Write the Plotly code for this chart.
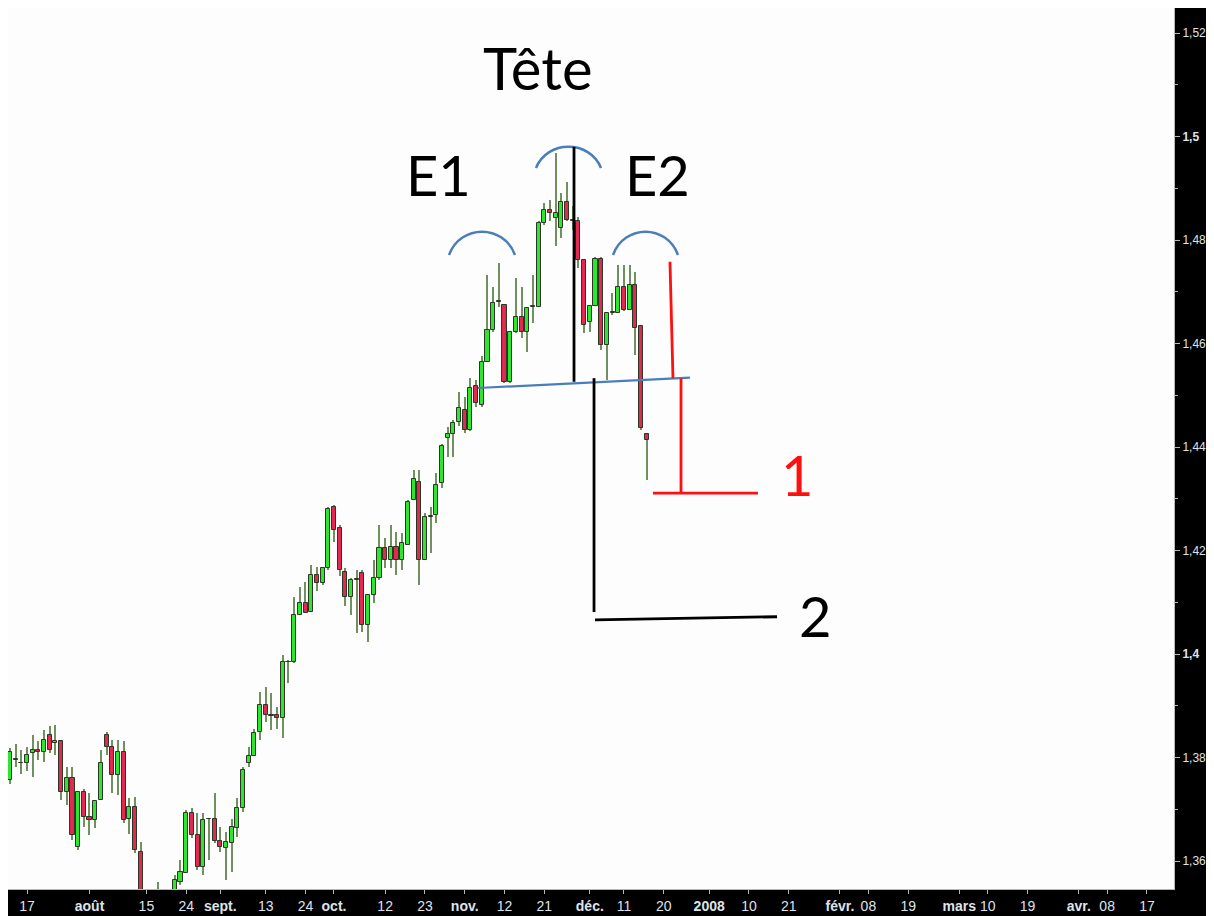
import pandas as pd
import plotly.graph_objects as go

# ---------------- data (EUR/USD daily candles, from 2007-07-12) ----------------
start_date = "2007-07-12"
open_ = [1.3756, 1.3795, 1.3790, 1.3789, 1.3808, 1.3814, 1.3811, 1.3844, 1.3828, 1.3831,
         1.3734, 1.3760, 1.3628, 1.3734, 1.3686, 1.3679, 1.3718, 1.3843, 1.3821, 1.3766,
         1.3811, 1.3682, 1.3705, 1.3618, 1.3500, 1.3420, 1.3440, 1.3460, 1.3480, 1.3530,
         1.3560, 1.3576, 1.3692, 1.3650, 1.3589, 1.3681, 1.3681, 1.3639, 1.3625, 1.3634,
         1.3663, 1.3702, 1.3789, 1.3802, 1.3850, 1.3902, 1.3882, 1.3882, 1.3876, 1.3985,
         1.3984, 1.4075, 1.4098, 1.4082, 1.4153, 1.4137, 1.4166, 1.4285, 1.4243, 1.4159,
         1.4111, 1.4143, 1.4157, 1.4056, 1.4114, 1.4146, 1.4204, 1.4182, 1.4207, 1.4182,
         1.4211, 1.4298, 1.4333, 1.4182, 1.4265, 1.4269, 1.4330, 1.4417, 1.4426, 1.4449,
         1.4472, 1.4433, 1.4517, 1.4481, 1.4565, 1.4626, 1.4681, 1.4674, 1.4526, 1.4623,
         1.4652, 1.4623, 1.4671, 1.4671, 1.4832, 1.4858, 1.4843, 1.4823, 1.4874, 1.4838,
         1.4836, 1.4761, 1.4642, 1.4672, 1.4764, 1.4597, 1.4658, 1.4658, 1.4710, 1.4665,
         1.4713, 1.4633, 1.4426]
high = [1.3818, 1.3827, 1.3815, 1.3821, 1.3843, 1.3831, 1.3853, 1.3860, 1.3863, 1.3833,
        1.3782, 1.3782, 1.3734, 1.3740, 1.3731, 1.3718, 1.3815, 1.3850, 1.3834, 1.3834,
        1.3831, 1.3721, 1.3724, 1.3637, 1.3525, 1.3460, 1.3560, 1.3510, 1.3530, 1.3573,
        1.3602, 1.3699, 1.3702, 1.3692, 1.3692, 1.3683, 1.3731, 1.3666, 1.3657, 1.3682,
        1.3721, 1.3782, 1.3821, 1.3856, 1.3927, 1.3937, 1.3924, 1.3898, 1.3998, 1.3988,
        1.4111, 1.4130, 1.4140, 1.4172, 1.4169, 1.4169, 1.4285, 1.4288, 1.4250, 1.4166,
        1.4146, 1.4162, 1.4162, 1.4114, 1.4182, 1.4249, 1.4224, 1.4249, 1.4236, 1.4233,
        1.4298, 1.4356, 1.4356, 1.4272, 1.4285, 1.4349, 1.4405, 1.4439, 1.4452, 1.4507,
        1.4497, 1.4533, 1.4530, 1.4575, 1.4732, 1.4710, 1.4755, 1.4674, 1.4623, 1.4726,
        1.4710, 1.4668, 1.4732, 1.4836, 1.4871, 1.4877, 1.4968, 1.4890, 1.4912, 1.4865,
        1.4845, 1.4761, 1.4674, 1.4768, 1.4768, 1.4658, 1.4697, 1.4752, 1.4752, 1.4752,
        1.4739, 1.4633, 1.4426]
low = [1.3748, 1.3782, 1.3769, 1.3773, 1.3763, 1.3795, 1.3792, 1.3808, 1.3805, 1.3718,
       1.3708, 1.3641, 1.3621, 1.3666, 1.3650, 1.3663, 1.3718, 1.3805, 1.3731, 1.3727,
       1.3673, 1.3653, 1.3615, 1.3480, 1.3400, 1.3265, 1.3370, 1.3430, 1.3430, 1.3500,
       1.3554, 1.3576, 1.3644, 1.3583, 1.3573, 1.3602, 1.3634, 1.3618, 1.3563, 1.3579,
       1.3647, 1.3695, 1.3782, 1.3802, 1.3834, 1.3869, 1.3853, 1.3856, 1.3837, 1.3944,
       1.3982, 1.4075, 1.4079, 1.4082, 1.4121, 1.4134, 1.4163, 1.4217, 1.4150, 1.4092,
       1.4075, 1.4040, 1.4043, 1.4024, 1.4098, 1.4143, 1.4166, 1.4166, 1.4153, 1.4162,
       1.4211, 1.4298, 1.4133, 1.4182, 1.4195, 1.4253, 1.4320, 1.4381, 1.4381, 1.4440,
       1.4427, 1.4430, 1.4478, 1.4478, 1.4565, 1.4623, 1.4670, 1.4523, 1.4523, 1.4620,
       1.4610, 1.4584, 1.4639, 1.4671, 1.4829, 1.4836, 1.4788, 1.4803, 1.4836, 1.4820,
       1.4745, 1.4620, 1.4623, 1.4672, 1.4588, 1.4530, 1.4655, 1.4658, 1.4662, 1.4665,
       1.4578, 1.4433, 1.4336]
close = [1.3811, 1.3797, 1.3789, 1.3805, 1.3814, 1.3811, 1.3834, 1.3815, 1.3831, 1.3734,
         1.3760, 1.3650, 1.3734, 1.3686, 1.3679, 1.3715, 1.3789, 1.3821, 1.3766, 1.3811,
         1.3679, 1.3705, 1.3621, 1.3500, 1.3420, 1.3440, 1.3460, 1.3480, 1.3500, 1.3563,
         1.3578, 1.3692, 1.3650, 1.3589, 1.3679, 1.3682, 1.3638, 1.3628, 1.3636, 1.3666,
         1.3702, 1.3776, 1.3802, 1.3847, 1.3902, 1.3882, 1.3880, 1.3876, 1.3985, 1.3984,
         1.4075, 1.4098, 1.4079, 1.4153, 1.4137, 1.4166, 1.4281, 1.4240, 1.4162, 1.4111,
         1.4143, 1.4145, 1.4056, 1.4114, 1.4146, 1.4204, 1.4182, 1.4207, 1.4182, 1.4214,
         1.4294, 1.4339, 1.4182, 1.4265, 1.4267, 1.4327, 1.4401, 1.4426, 1.4446, 1.4475,
         1.4433, 1.4514, 1.4485, 1.4565, 1.4626, 1.4678, 1.4683, 1.4526, 1.4623, 1.4652,
         1.4623, 1.4668, 1.4672, 1.4832, 1.4858, 1.4852, 1.4853, 1.4874, 1.4838, 1.4836,
         1.4761, 1.4636, 1.4672, 1.4764, 1.4597, 1.4658, 1.4660, 1.4710, 1.4665, 1.4713,
         1.4629, 1.4436, 1.4413]

tick_dates = ["2007-07-17", "2007-08-01", "2007-08-15", "2007-08-24", "2007-09-03",
              "2007-09-13", "2007-09-24", "2007-10-01", "2007-10-12", "2007-10-23",
              "2007-11-01", "2007-11-12", "2007-11-21", "2007-12-03", "2007-12-11",
              "2007-12-20", "2008-01-01", "2008-01-10", "2008-01-21", "2008-02-01",
              "2008-02-08", "2008-02-19", "2008-03-03", "2008-03-10", "2008-03-19",
              "2008-04-01", "2008-04-08", "2008-04-17"]
tick_labels = ["17", "<b>août</b>", "15", "24", "<b>sept.</b>", "13", "24", "<b>oct.</b>",
               "12", "23", "<b>nov.</b>", "12", "21", "<b>déc.</b>", "11", "20",
               "<b>2008</b>", "10", "21", "<b>févr.</b>", "08", "19", "<b>mars</b>",
               "10", "19", "<b>avr.</b>", "08", "17"]
price_ticks = [1.36, 1.38, 1.40, 1.42, 1.44, 1.46, 1.48, 1.50, 1.52]
price_labels = ["1,36", "1,38", "<b>1,4</b>", "1,42", "1,44", "1,46", "1,48",
                "<b>1,5</b>", "1,52"]

# ---------------- trading-day scale ----------------
calendar = pd.bdate_range(start_date, "2008-05-30")
pos = {d.strftime("%Y-%m-%d"): i for i, d in enumerate(calendar)}
n = len(open_)
xs = list(range(n))
tickvals = [pos[d] for d in tick_dates]

GREEN = "#2ee62e"
RED = "#e2294f"
OUT = "#2b3626"
WICK = "#71905f"

body_base = [min(o, c) for o, c in zip(open_, close)]
body_h = [max(abs(c - o), 0.00004) for o, c in zip(open_, close)]
body_col = [GREEN if c >= o else RED for o, c in zip(open_, close)]

fig = go.Figure()
fig.add_trace(go.Bar(x=xs, base=low, y=[h - l for h, l in zip(high, low)],
                     width=0.2, marker=dict(color=WICK, line=dict(width=0)),
                     hoverinfo="skip", showlegend=False))
fig.add_trace(go.Bar(x=xs, base=body_base, y=body_h, width=0.72,
                     marker=dict(color=body_col, line=dict(color=OUT, width=1)),
                     showlegend=False))

# ---------------- pattern drawings (data coordinates) ----------------
BLUE = "#4a7ebb"
def seg(x0, y0, x1, y1, color, width):
    fig.add_shape(type="line", x0=x0, y0=y0, x1=x1, y1=y1, xref="x", yref="y",
                  line=dict(color=color, width=width))

def arc(x0, x1, y_end, y_top):
    w = x1 - x0
    h = y_top - y_end
    c1x, c2x, cy = x0 + 0.171 * w, x1 - 0.171 * w, y_end + 1.335 * h
    fig.add_shape(type="path", xref="x", yref="y",
                  path=f"M {x0},{y_end} C {c1x},{cy} {c2x},{cy} {x1},{y_end}",
                  line=dict(color=BLUE, width=2.5))

arc(77.23, 88.84, 1.4771, 1.4816)    # E1
arc(92.53, 103.97, 1.4939, 1.4980)   # Tête
arc(106.08, 117.51, 1.4771, 1.4816)  # E2

seg(82.33, 1.4514, 119.62, 1.4534, BLUE, 2.2)          # neckline
seg(99.22, 1.4980, 99.22, 1.4526, "black", 2.8)        # head height
seg(102.74, 1.4533, 102.74, 1.4081, "black", 2.8)      # projection 2
seg(102.91, 1.4066, 134.93, 1.4072, "black", 2.8)
seg(116.10, 1.4758, 116.63, 1.4533, "#ff1010", 2.8)    # E2 height
seg(118.04, 1.4533, 118.04, 1.4311, "#ff1010", 2.8)    # projection 1
seg(113.11, 1.4311, 131.58, 1.4311, "#ff1010", 2.8)

TXT = "Lato, Calibri, 'Open Sans', sans-serif"
def label(x, y, text, color, size):
    fig.add_annotation(x=x, y=y, xref="x", yref="y", text=text, showarrow=False,
                       font=dict(family=TXT, size=size, color=color),
                       xanchor="center", yanchor="middle")

label(92.89, 1.5134, "Tête", "black", 58)
label(75.30, 1.4926, "E1", "black", 56)
label(113.99, 1.4926, "E2", "black", 56)
label(138.44, 1.4346, "1", "#ff1010", 56)
label(141.61, 1.4074, "2", "black", 56)

AX = "'Liberation Sans', Arial, sans-serif"
fig.update_layout(
    width=1206, height=908,
    margin=dict(l=0, r=40, t=0, b=27, autoexpand=False),
    paper_bgcolor="black", plot_bgcolor="#fdfdfd",
    barmode="overlay", bargap=0, showlegend=False,
    xaxis=dict(range=[-0.342, 204.76], tickmode="array", tickvals=tickvals,
               ticktext=tick_labels, showgrid=False, zeroline=False,
               showline=True, linecolor="#b8b8b8", linewidth=1,
               ticks="outside", ticklen=4, tickcolor="#b8b8b8", tickangle=0,
               automargin=False,
               tickfont=dict(family=AX, size=14, color="#dfe3ea"),
               ticklabelstandoff=0),
    yaxis=dict(range=[1.35459, 1.524831], side="right", tickmode="array",
               tickvals=price_ticks, ticktext=price_labels, showgrid=False,
               zeroline=False, showline=True, linecolor="#b8b8b8", linewidth=1,
               ticks="outside", ticklen=5, tickcolor="#b8b8b8", automargin=False,
               minor=dict(dtick=0.01, ticks="outside", ticklen=3, tickcolor="#b8b8b8"),
               tickfont=dict(family=AX, size=12, color="#dfe3ea"),
               ticklabelstandoff=0),
)

fig.write_html("out.html")
